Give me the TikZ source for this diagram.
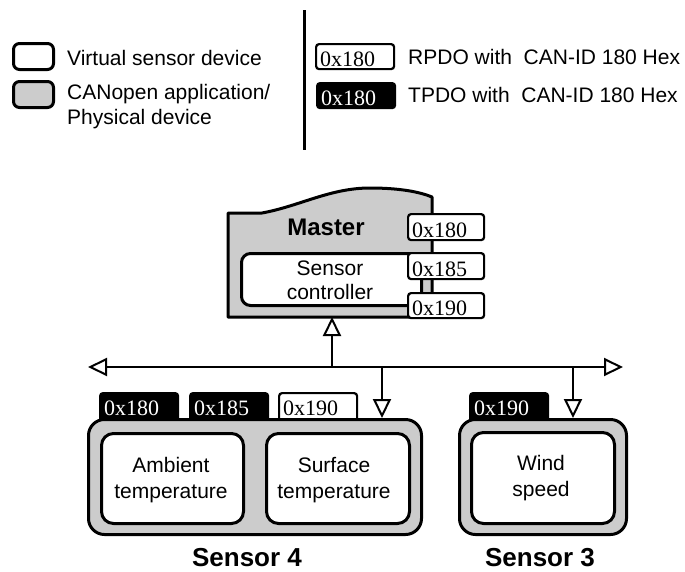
\documentclass[tikz,border=0pt]{standalone}
\usepackage{fontspec}
\setmainfont{Liberation Sans}
\newfontfamily\hexfont{Liberation Serif}
\usetikzlibrary{arrows.meta}
\definecolor{boxgray}{RGB}{204,204,204}
\tikzset{
  txt/.style={font=\fontsize{21}{25}\selectfont, inner sep=0pt, align=center},
  bold/.style={font=\bfseries\fontsize{24}{26}\selectfont, inner sep=0pt},
  hexbox/.style={draw=black, line width=2.2pt, rounded corners=3pt, fill=white, text=black,
    font=\hexfont\fontsize{22}{25}\selectfont, inner xsep=4pt, inner ysep=0pt,
    text height=22pt, text depth=3pt, text width=70pt, align=left, anchor=north west},
  hextpdo/.style={hexbox, fill=black, text=white},
  tabbox/.style={hextpdo, text depth=12pt},
  outerbox/.style={draw=black, line width=3pt, fill=boxgray, rounded corners=16pt, anchor=north west, inner sep=0pt},
  innerbox/.style={draw=black, line width=3pt, fill=white, rounded corners=12pt, anchor=north west, inner sep=0pt},
  legbox/.style={draw=black, line width=3pt, rounded corners=6pt, anchor=north west, inner sep=0pt, minimum width=40pt, minimum height=26pt},
  busline/.style={line width=2pt, {Triangle[open, length=19pt, width=18pt, line width=2pt]}-{Triangle[open, length=19pt, width=18pt, line width=2pt]}},
  dropline/.style={line width=2pt, -{Triangle[open, length=19pt, width=18pt, line width=2pt]}},
}
\begin{document}
\begin{tikzpicture}[x=1pt,y=-1pt]
\useasboundingbox[fill=white] (0,0) rectangle (685,571);

% ---- legend left
\node[legbox, fill=white] (lw) at (12,42) {};
\node[legbox, fill=boxgray] (lg) at (12,80) {};
\node[txt, anchor=base west] (lwt) at (67,65) {Virtual sensor device};
\node[txt, anchor=base west, align=left] (lgt) at (67,124) {CANopen application/\\Physical device};

% separator
\coordinate (sepT) at (304,10);
\coordinate (sepB) at (304,150);
\draw[line width=3pt] (sepT) -- (sepB);

% ---- legend right
\node[hexbox] (lr) at (315,43) {0x180};
\node[hextpdo] (lt) at (316,82) {0x180};
\node[txt, anchor=base west] (lrt) at (408,64) {RPDO with~~CAN-ID 180 Hex};
\node[txt, anchor=base west] (ltt) at (408,102) {TPDO with~~CAN-ID 180 Hex};

% ---- Master
\draw[line width=3pt, fill=boxgray, line join=round]
  (228,213) -- (262,213) .. controls (300,206) and (330,188) .. (370,188)
  .. controls (400,188) and (420,192) .. (432,197) -- (432,317) -- (228,317) -- cycle;
\coordinate (mb) at (332,317);
\node[bold] (master) at (326,227) {Master};
\node[draw=black, line width=3pt, fill=white, rounded corners=9pt, anchor=north west, inner sep=0pt,
      minimum width=180pt, minimum height=52pt] (sc) at (240,252) {};
\node[txt, font=\fontsize{21}{24}\selectfont] (sct) at (330,280) {Sensor\\controller};
\node[hexbox, text width=68pt, text height=23pt] (m180) at (407,213) {0x180};
\node[hexbox, text width=68pt, text height=23pt] (m185) at (407,252) {0x185};
\node[hexbox, text width=68pt, text height=22pt] (m190) at (407,292) {0x190};

% ---- bus
\coordinate (busL) at (88,367);
\coordinate (busR) at (623,367);
\coordinate (j0) at (332,367);
\coordinate (j1) at (382,367);
\coordinate (j2) at (573,367);
\draw[busline] (busL) -- (busR);
\draw[dropline] (j0) -- (mb);

% ---- Sensor 4
\node[tabbox] (s4a) at (99,392) {0x180};
\node[tabbox] (s4b) at (189,392) {0x185};
\node[hexbox, text depth=12pt] (s4c) at (278,392) {0x190};
\node[outerbox, minimum width=333pt, minimum height=115pt] (s4) at (87,418) {};
\node[innerbox, minimum width=142pt, minimum height=90pt] (amb) at (100,432) {};
\node[innerbox, minimum width=143pt, minimum height=90pt] (sur) at (265,432) {};
\node[txt, font=\fontsize{21}{26}\selectfont] (ambt) at (171,480) {Ambient\\temperature};
\node[txt, font=\fontsize{21}{26}\selectfont] (surt) at (334,480) {Surface\\temperature};
\node[bold, font=\bfseries\fontsize{26}{28}\selectfont] (s4l) at (247,558) {Sensor 4};
\draw[dropline] (j1) -- (j1 |- s4.north);

% ---- Sensor 3
\node[tabbox] (s3a) at (469,392) {0x190};
\node[outerbox, minimum width=167pt, minimum height=115pt] (s3) at (458,418) {};
\node[innerbox, minimum width=143pt, minimum height=91pt] (wind) at (470,431) {};
\node[txt, font=\fontsize{21}{26}\selectfont] (windt) at (541,478) {Wind\\speed};
\node[bold, font=\bfseries\fontsize{26}{28}\selectfont] (s3l) at (540,558) {Sensor 3};
\draw[dropline] (j2) -- (j2 |- s3.north);
\end{tikzpicture}
\end{document}
